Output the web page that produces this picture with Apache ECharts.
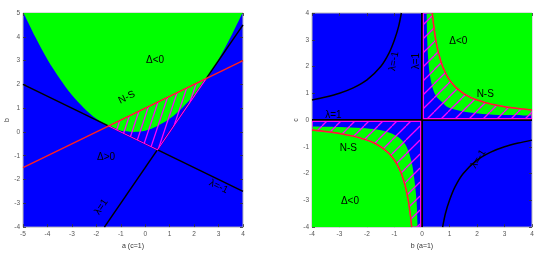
<!DOCTYPE html>
<html>
<head>
<meta charset="utf-8">
<script src="https://cdn.jsdelivr.net/npm/echarts@6/dist/echarts.min.js"></script>
<style>
html, body { margin: 0; padding: 0; background: #fff; }
#chart { width: 550px; height: 255px; }
</style>
</head>
<body>
<div id="chart"></div>
<script>
// ---- left panel: a (c=1) on x, b on y ----
const leftXRange = [-5, 4]
const leftYRange = [-4, 5]
// Δ=0 boundary, green above it
const leftDeltaZero = [
  [-5, 5.05], [-4.5, 4.0], [-4, 3.05], [-3.5, 2.25], [-3, 1.55], [-2.5, 1.0],
  [-2, 0.55], [-1.5, 0.25], [-1, 0.05], [-0.5, 0], [0, 0.05], [0.5, 0.25],
  [1, 0.55], [1.5, 1.0], [2, 1.55], [2.5, 2.25], [3, 3.05], [3.5, 4.0], [4, 5.05],
]
const leftLambdaMinus1 = [[-5, 2], [4, -2.5]]
const leftLambda1 = [[-1.67, -4], [4, 4.5]]
const leftNS = [[-5, -1.5], [4, 3]]
const leftHatch = [[-1.5, 0.25], [2.5, 2.25], [0.5, -0.75]]
const leftLabelText = ['Δ<0', 'N-S', 'Δ>0', 'λ=-1', 'λ=1']
const leftLabelX = [0.4, -0.75, -1.6, 3.0, -1.8]
const leftLabelY = [3.0, 1.45, -1.05, -2.3, -3.15]
const leftLabelAngle = [0, 26, 0, -26, 56]

// ---- right panel: b (a=1) on x, c on y ----
const rightRange = [-4, 4]
const rightGreenQ1 = [
  [0.17, 4], [0.19, 3], [0.23, 2.2], [0.3, 1.6], [0.4, 1.15], [0.52, 0.88], [0.7, 0.7],
  [0.88, 0.52], [1.15, 0.4], [1.6, 0.3], [2.2, 0.23], [3, 0.19], [4, 0.17],
]
const rightGreenQ3 = [
  [-4, -0.24], [-3, -0.26], [-2.2, -0.3], [-1.6, -0.36], [-1.15, -0.48], [-0.88, -0.62],
  [-0.72, -0.76], [-0.6, -0.92], [-0.48, -1.2], [-0.36, -1.65], [-0.28, -2.2], [-0.2, -3], [-0.16, -4],
]
const rightNSQ1 = [
  [0.375, 4], [0.42, 3.57], [0.5, 3], [0.6, 2.5], [0.75, 2], [0.9, 1.67], [1, 1.5], [1.2, 1.25],
  [1.5, 1], [1.8, 0.83], [2, 0.75], [2.5, 0.6], [3, 0.5], [3.5, 0.43], [4, 0.375],
]
const rightNSQ3 = [
  [-4, -0.375], [-3.5, -0.43], [-3, -0.5], [-2.5, -0.6], [-2, -0.75], [-1.8, -0.83], [-1.5, -1],
  [-1.2, -1.25], [-1, -1.5], [-0.9, -1.67], [-0.75, -2], [-0.6, -2.5], [-0.5, -3], [-0.42, -3.57], [-0.375, -4],
]
const rightLambdaMinus1Q2 = [
  [-4, 0.75], [-3.5, 0.86], [-3, 1], [-2.5, 1.2], [-2, 1.5], [-1.5, 2], [-1.2, 2.5], [-1, 3], [-0.85, 3.5], [-0.75, 4],
]
const rightLambdaMinus1Q4 = [
  [0.75, -4], [0.85, -3.5], [1, -3], [1.2, -2.5], [1.5, -2], [2, -1.5], [2.5, -1.2], [3, -1], [3.5, -0.86], [4, -0.75],
]
const rightLambda1B = [[0, -4], [0, 4]]
const rightLambda1C = [[-4, 0], [4, 0]]
// hatched corners: axis offsets, closed with the N-S curve
const rightHatchQ1Corner = [[0.05, 4], [0.05, 0.05], [4, 0.05]]
const rightHatchQ3Corner = [[-0.05, -4], [-0.05, -0.05], [-4, -0.05]]
const rightLabelText = ['Δ<0', 'N-S', 'N-S', 'Δ<0', 'λ=-1', 'λ=-1', 'λ=1', 'λ=1']
const rightLabelX = [1.32, 2.3, -2.68, -2.62, -1.02, 2.05, -0.2, -3.22]
const rightLabelY = [2.94, 0.96, -1.07, -3.03, 2.2, -1.45, 2.2, 0.17]
const rightLabelAngle = [0, 0, 0, 0, 80, 58, 90, 0]

const BLUE = '#0000ff'
const GREEN = '#00ff00'
const RED = '#ff1f1f'
const MAGENTA = '#ff00ff'
const FONT = 'Liberation Sans, Arial, sans-serif'

function hatchTile(w, h) {
  const c = document.createElement('canvas')
  c.width = w
  c.height = h
  const ctx = c.getContext('2d')
  ctx.strokeStyle = MAGENTA
  ctx.lineWidth = 1.3
  for (const dx of [-w, 0, w]) {
    ctx.beginPath()
    ctx.moveTo(dx, h)
    ctx.lineTo(dx + w, 0)
    ctx.stroke()
  }
  return c
}
const steepTile = hatchTile(8, 24)
const diagTile = hatchTile(14, 14)

function axisPair(gridIndex, range, name, isX) {
  const base = {
    gridIndex,
    type: 'value',
    min: range[0],
    max: range[1],
    interval: 1,
    splitLine: { show: false },
    axisLine: { show: false, onZero: false },
    axisTick: { inside: true, length: 3, lineStyle: { color: '#333', width: 0.8 } },
  }
  const main = Object.assign({}, base, {
    position: isX ? 'bottom' : 'left',
    name,
    nameLocation: 'middle',
    nameGap: 12,
    nameRotate: isX ? 0 : 90,
    nameTextStyle: { fontSize: 7, color: '#333', fontFamily: FONT, verticalAlign: isX ? 'top' : 'bottom' },
    axisLabel: { fontSize: 6.5, color: '#555', margin: isX ? 4 : 3, fontFamily: FONT },
  })
  const other = Object.assign({}, base, {
    position: isX ? 'top' : 'right',
    axisLabel: { show: false },
  })
  return [main, other]
}

function lineSeries(data, axis, color, width, z) {
  return {
    type: 'line',
    xAxisIndex: axis,
    yAxisIndex: axis,
    data,
    showSymbol: false,
    silent: true,
    smooth: data.length > 2 ? 0.3 : false,
    lineStyle: { color, width },
    z,
  }
}

function areaSeries(data, axis, origin) {
  return {
    type: 'line',
    xAxisIndex: axis,
    yAxisIndex: axis,
    data,
    showSymbol: false,
    silent: true,
    smooth: 0.3,
    lineStyle: { width: 0 },
    areaStyle: { color: GREEN, opacity: 1, origin },
    z: 1,
  }
}

function hatchSeries(points, axis, tile) {
  return {
    type: 'custom',
    xAxisIndex: axis,
    yAxisIndex: axis,
    data: [[points[0][0], points[0][1]]],
    silent: true,
    clip: true,
    z: 4,
    renderItem: (params, api) => ({
      type: 'polygon',
      shape: { points: points.map(p => api.coord(p)) },
      style: { fill: { image: tile, repeat: 'repeat' }, stroke: MAGENTA, lineWidth: 1.2 },
    }),
  }
}

function labelSeries(texts, xs, ys, angles, axis) {
  return {
    type: 'custom',
    xAxisIndex: axis,
    yAxisIndex: axis,
    data: xs.map((x, i) => [x, ys[i], angles[i]]),
    silent: true,
    z: 10,
    renderItem: (params, api) => {
      const p = api.coord([api.value(0), api.value(1)])
      return {
        type: 'text',
        x: p[0],
        y: p[1],
        rotation: (api.value(2) * Math.PI) / 180,
        style: {
          text: texts[params.dataIndex],
          fill: '#000',
          font: '10px ' + FONT,
          align: 'center',
          verticalAlign: 'middle',
        },
      }
    },
  }
}

const leftAxesX = axisPair(0, leftXRange, 'a (c=1)', true)
const leftAxesY = axisPair(0, leftYRange, 'b', false)
const rightAxesX = axisPair(1, rightRange, 'b (a=1)', true)
const rightAxesY = axisPair(1, rightRange, 'c', false)

const rightHatchQ1 = rightHatchQ1Corner.concat(rightNSQ1.slice().reverse())
const rightHatchQ3 = rightHatchQ3Corner.concat(rightNSQ3)

const chart = echarts.init(document.getElementById('chart'))
chart.setOption({
  animation: false,
  grid: [
    { left: 23, top: 13, width: 220, height: 216, show: true, backgroundColor: BLUE, borderColor: '#bbb', borderWidth: 1 },
    { left: 312, top: 13, width: 220, height: 216, show: true, backgroundColor: BLUE, borderColor: '#bbb', borderWidth: 1 },
  ],
  xAxis: [leftAxesX[0], leftAxesX[1], rightAxesX[0], rightAxesX[1]],
  yAxis: [leftAxesY[0], leftAxesY[1], rightAxesY[0], rightAxesY[1]],
  series: [
    areaSeries(leftDeltaZero, 0, 'end'),
    hatchSeries(leftHatch, 0, steepTile),
    lineSeries(leftLambdaMinus1, 0, '#000', 1.5, 3),
    lineSeries(leftLambda1, 0, '#000', 1.5, 3),
    lineSeries(leftNS, 0, RED, 1.5, 5),
    labelSeries(leftLabelText, leftLabelX, leftLabelY, leftLabelAngle, 0),

    areaSeries(rightGreenQ1, 2, 'end'),
    areaSeries(rightGreenQ3, 2, 'start'),
    lineSeries(rightLambda1B, 2, '#000', 2, 3),
    lineSeries(rightLambda1C, 2, '#000', 2, 3),
    hatchSeries(rightHatchQ1, 2, diagTile),
    hatchSeries(rightHatchQ3, 2, diagTile),
    lineSeries(rightLambdaMinus1Q2, 2, '#000', 1.5, 3),
    lineSeries(rightLambdaMinus1Q4, 2, '#000', 1.5, 3),
    lineSeries(rightNSQ1, 2, RED, 1.5, 5),
    lineSeries(rightNSQ3, 2, RED, 1.5, 5),
    labelSeries(rightLabelText, rightLabelX, rightLabelY, rightLabelAngle, 2),
  ],
})
</script>
</body>
</html>
